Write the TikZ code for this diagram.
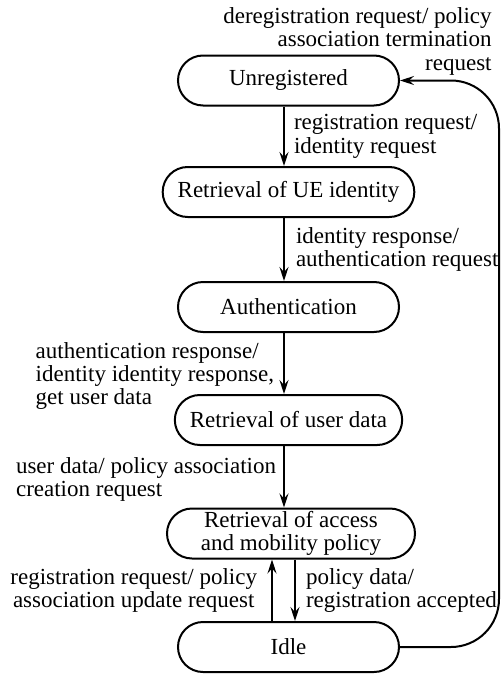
\documentclass[tikz,border=0pt]{standalone}
\usepackage{fontspec}
\setmainfont{Liberation Serif}
\usetikzlibrary{arrows.meta,positioning}

\tikzset{
  statebox/.style={draw, line width=1pt, rounded corners=12.5pt, minimum width=110.5pt,
    minimum height=25pt, inner xsep=7.5pt, inner ysep=1pt, align=center},
  lbl/.style={inner sep=0pt, align=left},
  arr/.style={-{Stealth[length=7pt,width=4.5pt,inset=2.5pt]}, line width=1pt},
}

\begin{document}
\begin{tikzpicture}[x=0.5pt, y=-0.5pt, font=\fontsize{11.5pt}{11.7pt}\selectfont]
  \useasboundingbox (0,0) rectangle (501,680);

  % states of the registration procedure
  \node[statebox] (unreg) at (288.5,80.5) {Unregistered};
  \node[statebox] (ueid)  at (288.5,192)  {Retrieval of UE identity};
  \node[statebox] (auth)  at (288.5,307)  {Authentication};
  \node[statebox] (udata) at (288.5,420)  {Retrieval of user data};
  \node[statebox, minimum width=124pt] (policy) at (291,533.5) {Retrieval of access\\and mobility policy};
  \node[statebox] (idle)  at (288.5,647)  {Idle};

  % main chain
  \draw[arr] ([xshift=-2.25pt]unreg.south) -- ([xshift=-2.25pt]ueid.north)
    node[lbl, midway, right=4.5pt] (reglbl) {registration request/\\identity request};
  \draw[arr] ([xshift=-2.25pt]ueid.south) -- ([xshift=-2.25pt]auth.north)
    node[lbl, midway, right=5.5pt] (idlbl) {identity response/\\authentication request};
  \draw[arr] ([xshift=-2.25pt]auth.south) -- ([xshift=-2.25pt]udata.north)
    node[lbl, midway, left=4.5pt, yshift=-6.25pt] (authlbl) {authentication response/\\identity identity response,\\get user data};
  \draw[arr] ([xshift=-2.25pt]udata.south) -- ([xshift=-2.25pt]udata.south |- policy.north)
    node[lbl, midway, left=3.5pt, yshift=-1.25pt] (udlbl) {user data/ policy association\\creation request};

  % policy <-> idle
  \draw[arr] ([xshift=-8.25pt]idle.north) -- ([xshift=-8.25pt]idle.north |- policy.south)
    node[lbl, midway, left=7pt, align=center] (updlbl) {registration request/ policy\\association update request};
  \draw[arr] ([xshift=3.25pt]idle.north |- policy.south) -- ([xshift=3.25pt]idle.north)
    node[lbl, midway, right=5pt] (acclbl) {policy data/\\registration accepted};

  % deregistration back to the start
  \coordinate (back) at (499,80.5);
  \draw[arr, rounded corners=24pt] (idle.east) -| (back) -- (unreg.east);
  \node[lbl, align=right, anchor=north east] (dereglbl) at (492,7)
    {deregistration request/ policy\\association termination\\request};
\end{tikzpicture}
\end{document}
